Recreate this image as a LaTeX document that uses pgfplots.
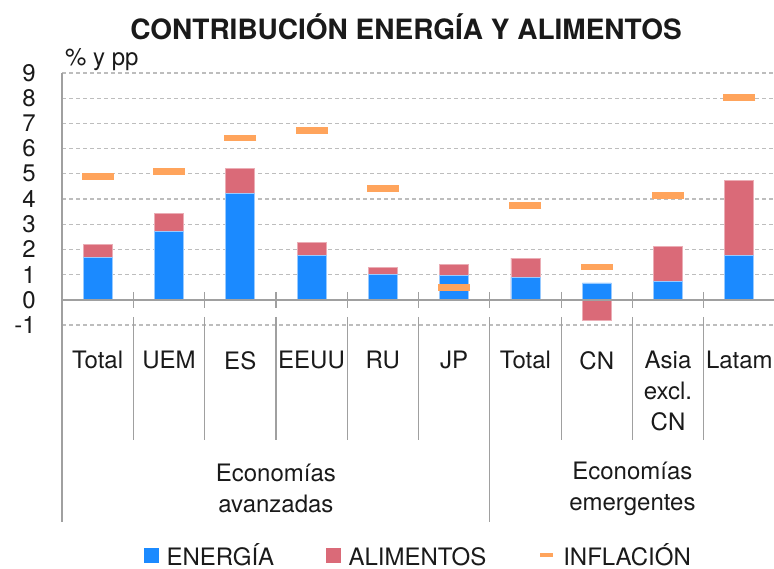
\documentclass[border=0pt]{standalone}
\usepackage{pgfplots}
\pgfplotsset{compat=1.18}
\usepackage{pgfplotstable}
\usepackage{fontspec}
\setmainfont{TeX Gyre Heros}

\definecolor{energ}{HTML}{1B8AFF}
\definecolor{alim}{HTML}{DA6A78}
\definecolor{infl}{HTML}{FFA45C}
\definecolor{gridc}{HTML}{BDBDBD}
\definecolor{axc}{HTML}{A0A0A0}
\definecolor{txt}{HTML}{1A1A1A}

% x: category, ener: energia, tot: energia + alimentos (alimentos below 0 for CN), inf: inflacion
\pgfplotstableread{
x ener  tot   inf
0 1.69  2.21  4.89
1 2.73  3.41  5.10
2 4.21  5.21  6.42
3 1.77  2.26  6.73
4 1.02  1.30  4.43
5 0.96  1.39  0.50
6 0.89  1.65  3.74
7 0.67  -0.81 1.30
8 0.73  2.12  4.14
9 1.76  4.75  8.04
}\datos

\newcommand{\lab}{\fontsize{24bp}{31bp}\selectfont}

\begin{document}
\begin{tikzpicture}[every node/.style={text=txt}]
\path[use as bounding box] (0,0) rectangle (774bp,-569bp);
\node[font=\fontsize{28bp}{32bp}\selectfont\bfseries] at (406bp,-27bp) {CONTRIBUCIÓN ENERGÍA Y ALIMENTOS};
\node[font=\lab, anchor=base west, inner sep=0pt] at (65bp,-65bp) {\% y pp};
\begin{axis}[
    at={(62bp,-325bp)}, anchor=south west,
    scale only axis, width=713bp, height=252bp,
    xmin=-0.5, xmax=9.5, ymin=-1, ymax=9,
    ytick={-1,0,...,9},
    yticklabels={-1,0,1,2,3,4,5,6,7,8,9},
    xtick={0,...,9},
    xticklabels={Total,UEM,ES,EEUU,RU,JP,Total,CN,{Asia\\excl.\\CN},Latam},
    major tick length=0pt,
    axis line style={draw=none},
    ymajorgrids,
    grid style={gridc, line width=1.2bp, dash pattern=on 4bp off 3bp},
    clip=false,
    tick label style={font=\lab},
    xticklabel style={align=center, anchor=north, inner sep=0pt, yshift=-26bp},
    yticklabel style={anchor=east, inner sep=0pt, xshift=-26bp},
    legend columns=3,
    legend style={at={(0.5,-0.9127)}, anchor=center, draw=none, fill=none,
        font=\lab, inner sep=0pt,
        /tikz/every odd column/.append style={column sep=6bp},
        /tikz/every even column/.append style={column sep=50bp}},
]
\addlegendimage{legend image code/.code={\fill[energ] (0bp,-7bp) rectangle (14bp,7bp);}}
\addlegendentry{ENERGÍA}
\addlegendimage{legend image code/.code={\fill[alim] (0bp,-7bp) rectangle (14bp,7bp);}}
\addlegendentry{ALIMENTOS\vphantom{Í}}
\addlegendimage{legend image code/.code={\draw[infl, line width=4bp] (0bp,0bp) -- (13bp,0bp);}}
\addlegendentry{INFLACIÓN}

\addplot[ybar, bar width=29bp, bar shift=0pt, fill=alim, draw=alim!55, line width=0.8bp, forget plot]
    table[x=x, y=tot] {\datos};
\addplot[ybar, bar width=29bp, bar shift=0pt, fill=energ, draw=energ!45, line width=0.8bp, forget plot]
    table[x=x, y=ener] {\datos};
\addplot[only marks, mark=-, mark size=16bp, mark options={draw=infl, line width=6.7bp}, forget plot]
    table[x=x, y=inf] {\datos};

% ejes y separadores de categorias
\draw[axc, line width=1.5bp] (axis cs:-0.5,0) -- (axis cs:9.5,0);
\draw[axc, line width=1.5bp] (axis cs:-0.5,9) -- ([yshift=-222bp]axis cs:-0.5,0);
\pgfplotsinvokeforeach{0.5,1.5,2.5,3.5,4.5,5.5,6.5,7.5,8.5}{
    \draw[axc, line width=1.2bp] ([yshift=8bp]axis cs:#1,0) -- ([yshift=-8bp]axis cs:#1,0);
}
\pgfplotsinvokeforeach{0.5,1.5,2.5,3.5,4.5,6.5,7.5,8.5}{
    \draw[axc, line width=1.2bp] ([yshift=-17bp]axis cs:#1,0) -- ([yshift=-140bp]axis cs:#1,0);
}
\draw[axc, line width=1.2bp] ([yshift=-17bp]axis cs:5.5,0) -- ([yshift=-222bp]axis cs:5.5,0);
\node[font=\lab, align=center] at ([yshift=-189bp]axis cs:2.5,0) {Economías\\avanzadas};
\node[font=\lab, align=center] at ([yshift=-189bp]axis cs:7.5,0) {Economías\\emergentes};
\end{axis}
\end{tikzpicture}
\end{document}
